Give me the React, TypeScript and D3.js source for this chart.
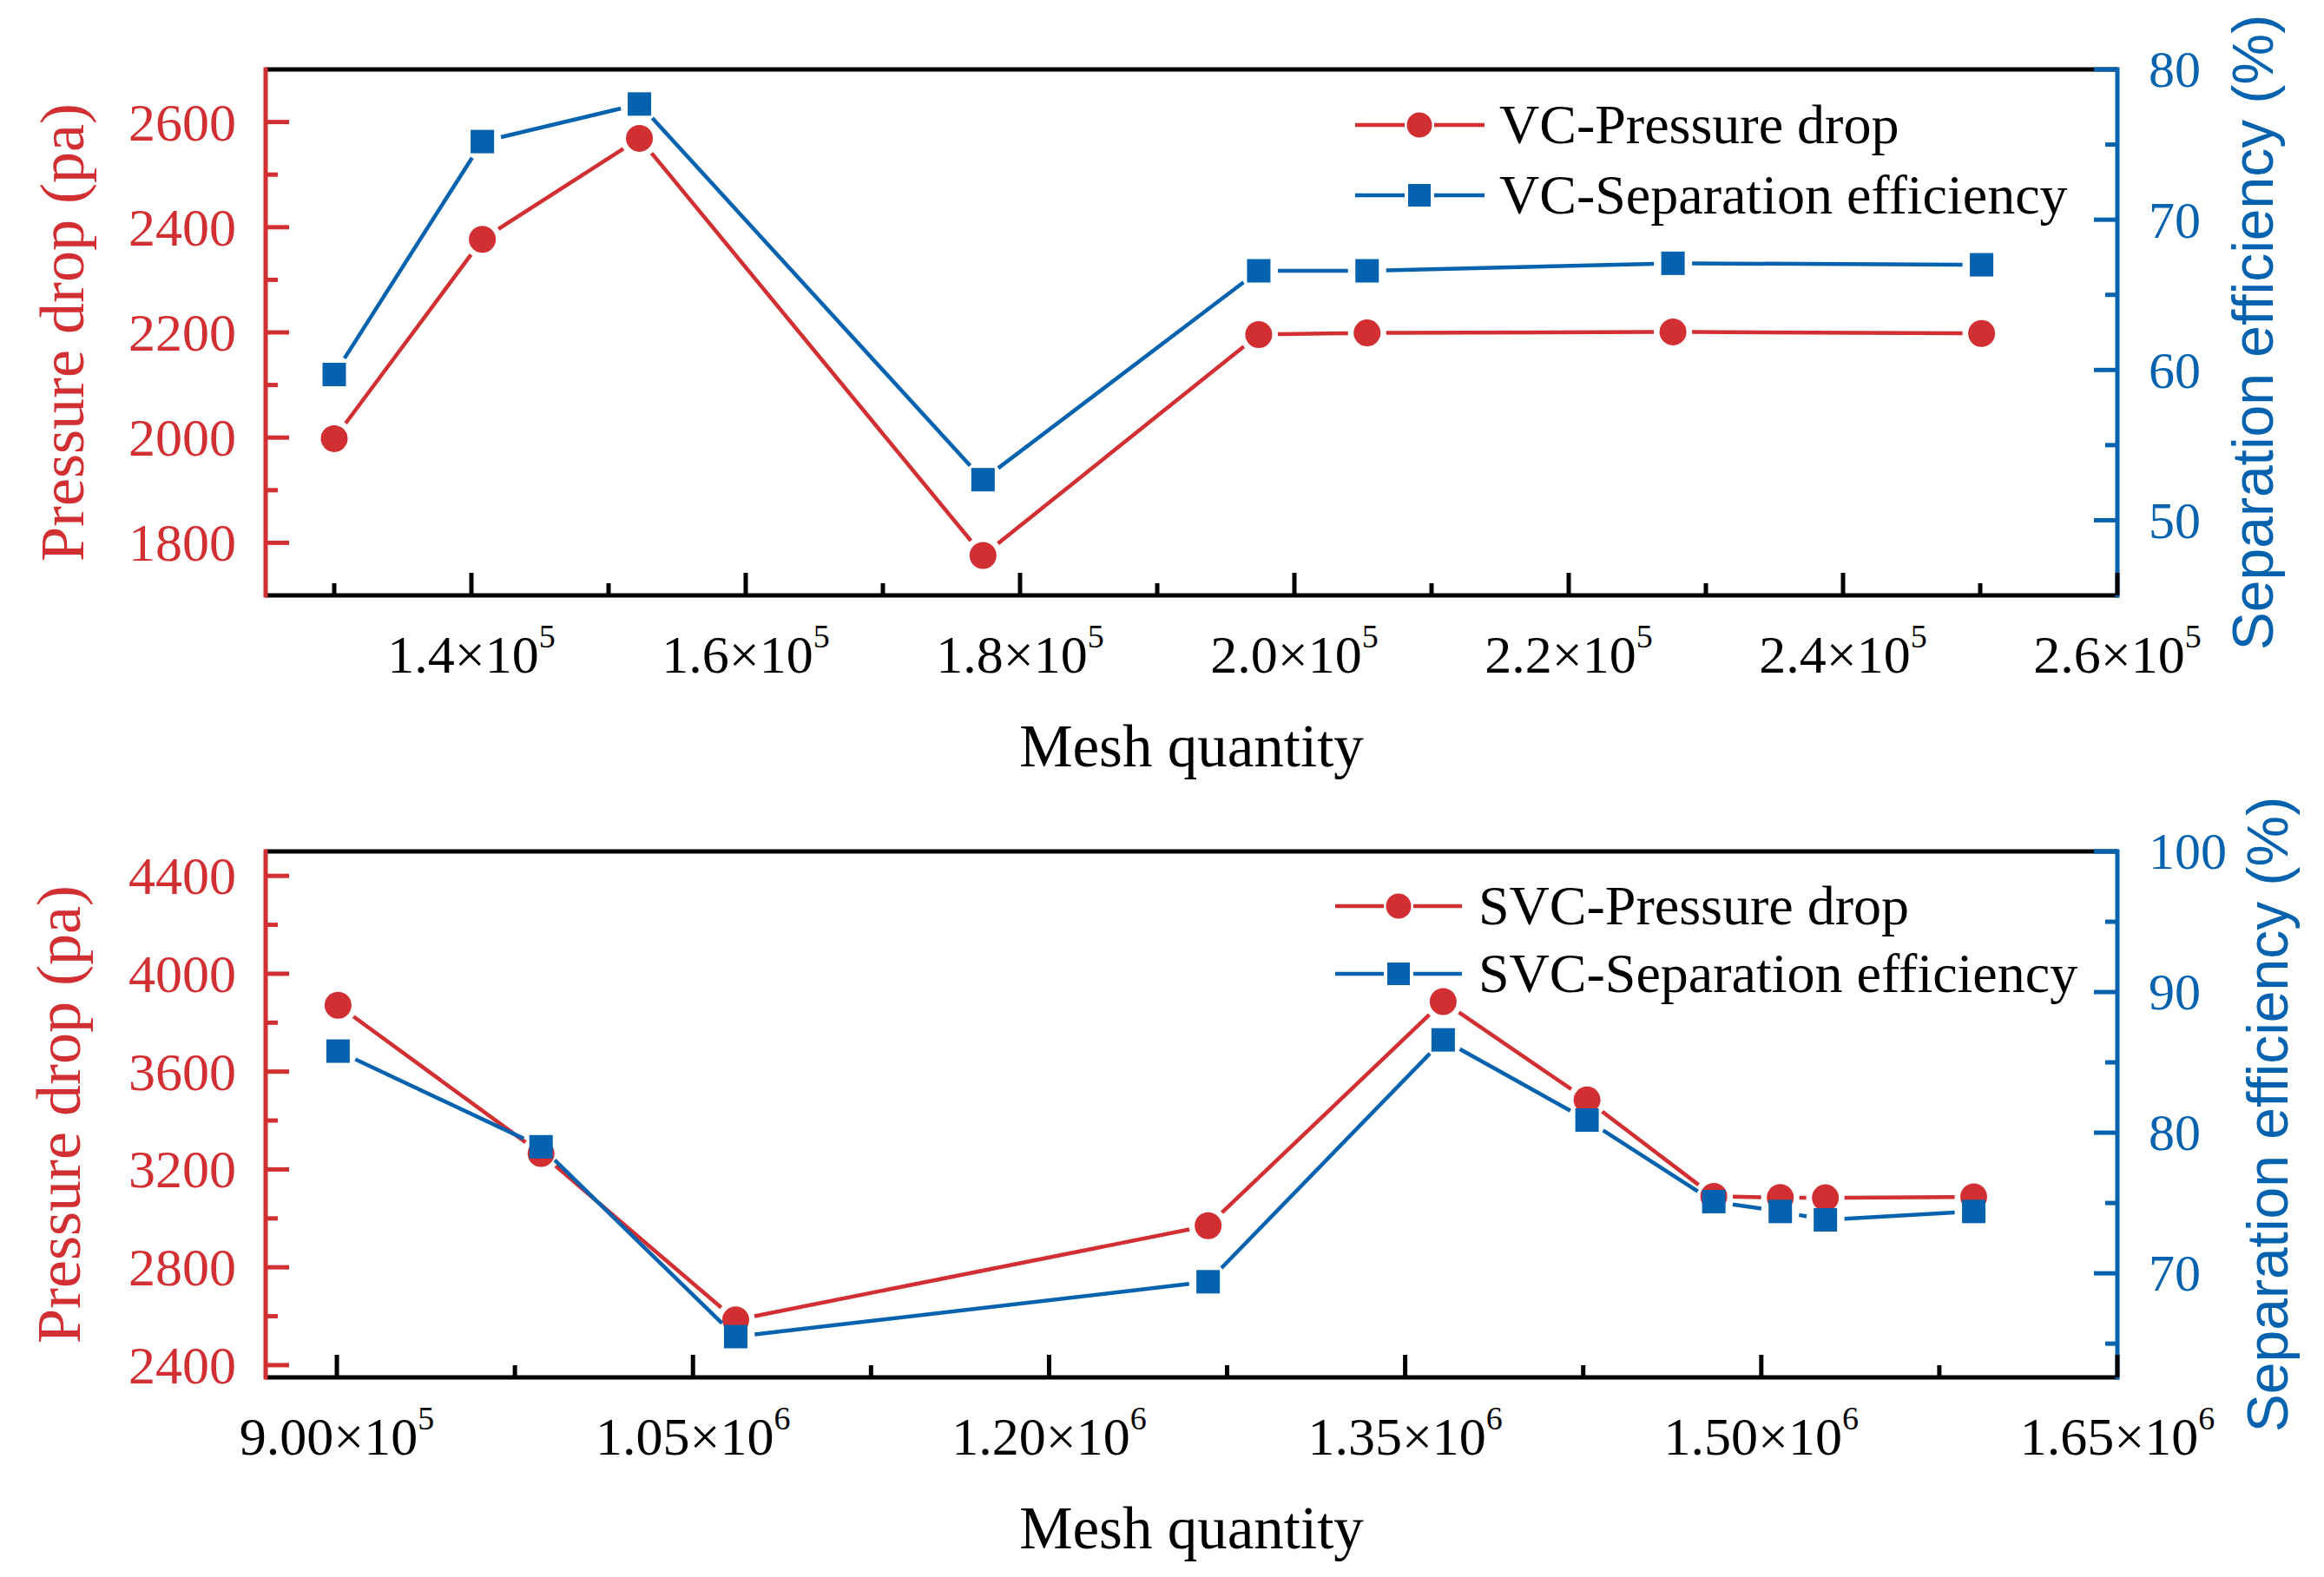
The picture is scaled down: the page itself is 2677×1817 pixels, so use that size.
import * as d3 from "d3";

// VC (top panel)
const vcMesh = [1.3e5, 1.408e5, 1.5225e5, 1.773e5, 1.974e5, 2.053e5, 2.276e5, 2.501e5];
const vcPressure = [1998, 2377, 2569, 1776, 2196, 2199, 2201, 2198];
const vcEfficiency = [59.7, 75.2, 77.7, 52.7, 66.6, 66.6, 67.1, 67.0];

// SVC (bottom panel)
const svcMesh = [9.005e5, 9.86e5, 1.068e6, 1.267e6, 1.366e6, 1.4266e6, 1.48e6, 1.508e6, 1.527e6, 1.5895e6];
const svcPressure = [3871, 3265, 2585, 2970, 3886, 3484, 3090, 3085, 3084, 3088];
const svcEfficiency = [85.8, 79.0, 65.5, 69.4, 86.6, 80.9, 75.1, 74.4, 73.8, 74.4];

// tick values and labels
const vcXTicks = [1.4e5, 1.6e5, 1.8e5, 2.0e5, 2.2e5, 2.4e5, 2.6e5];
const vcXLabels = ["1.4", "1.6", "1.8", "2.0", "2.2", "2.4", "2.6"];
const vcXExp = ["5", "5", "5", "5", "5", "5", "5"];
const vcXMinor = [1.3e5, 1.5e5, 1.7e5, 1.9e5, 2.1e5, 2.3e5, 2.5e5];
const vcLeftTicks = [1800, 2000, 2200, 2400, 2600];
const vcLeftMinor = [1900, 2100, 2300, 2500];
const vcRightTicks = [50, 60, 70, 80];
const vcRightMinor = [55, 65, 75];

const svcXTicks = [9.0e5, 1.05e6, 1.2e6, 1.35e6, 1.5e6, 1.65e6];
const svcXLabels = ["9.00", "1.05", "1.20", "1.35", "1.50", "1.65"];
const svcXExp = ["5", "6", "6", "6", "6", "6"];
const svcXMinor = [9.75e5, 1.125e6, 1.275e6, 1.425e6, 1.575e6];
const svcLeftTicks = [2400, 2800, 3200, 3600, 4000, 4400];
const svcLeftMinor = [2600, 3000, 3400, 3800, 4200];
const svcRightTicks = [70, 80, 90, 100];
const svcRightMinor = [65, 75, 85, 95];

const RED = "#d22f33";
const BLUE = "#0562ae";
const SERIF = "'Liberation Serif', 'Times New Roman', serif";
const SANS = "'Liberation Sans', Arial, sans-serif";

const LEFT = 306;
const RIGHT = 2439;
const AX = 5; // axis / tick stroke
const LW = 4.5; // data line stroke

type Pt = [number, number];

// shorten each segment so the line stops a little before the markers
function segments(pts: Pt[], gap: number) {
  const out: number[][] = [];
  for (let i = 0; i < pts.length - 1; i++) {
    const [x1, y1] = pts[i];
    const [x2, y2] = pts[i + 1];
    const len = Math.hypot(x2 - x1, y2 - y1);
    if (len <= gap * 2) continue;
    const ux = (x2 - x1) / len;
    const uy = (y2 - y1) / len;
    out.push([x1 + ux * gap, y1 + uy * gap, x2 - ux * gap, y2 - uy * gap]);
  }
  return out;
}

function Panel(props: any) {
  const {
    top, bottom, xDomain, xTicks, xLabels, xExp, xMinor,
    lDomain, lTicks, lMinor, rDomain, rTicks, rMinor,
    mesh, pressure, efficiency, names, legend, leftTitleX, rightTitleX,
  } = props;

  const x = d3.scaleLinear().domain(xDomain).range([LEFT, RIGHT]);
  const yL = d3.scaleLinear().domain(lDomain).range([bottom, top]);
  const yR = d3.scaleLinear().domain(rDomain).range([bottom, top]);

  const redPts: Pt[] = mesh.map((m: number, i: number) => [x(m), yL(pressure[i])]);
  const bluePts: Pt[] = mesh.map((m: number, i: number) => [x(m), yR(efficiency[i])]);

  const midY = (top + bottom) / 2;
  const midX = (LEFT + RIGHT) / 2;
  const sq = 27;
  const rc = 15.5;

  return (
    <g>
      {/* frame */}
      <line x1={LEFT} x2={RIGHT} y1={top} y2={top} stroke="#000" strokeWidth={AX} />
      <line x1={LEFT} x2={RIGHT + 2} y1={bottom} y2={bottom} stroke="#000" strokeWidth={AX} />
      <line x1={LEFT} x2={LEFT} y1={top - 2.5} y2={bottom + 2.5} stroke={RED} strokeWidth={AX} />
      <line x1={RIGHT} x2={RIGHT} y1={top - 2.5} y2={bottom + 2.5} stroke={BLUE} strokeWidth={AX} />

      {/* x ticks */}
      {xTicks.map((t: number) => (
        <line key={"xt" + t} x1={x(t)} x2={x(t)} y1={bottom} y2={bottom - 26} stroke="#000" strokeWidth={AX} />
      ))}
      {xMinor.map((t: number) => (
        <line key={"xm" + t} x1={x(t)} x2={x(t)} y1={bottom} y2={bottom - 14} stroke="#000" strokeWidth={AX} />
      ))}
      {xTicks.map((t: number, i: number) => (
        <text key={"xl" + t} x={x(t)} y={bottom + 89} textAnchor="middle" fontFamily={SERIF} fontSize={62} fill="#000">
          <tspan>{xLabels[i]}×10</tspan>
          <tspan fontSize={38} dy={-29}>{xExp[i]}</tspan>
        </text>
      ))}

      {/* left axis */}
      {lTicks.map((t: number) => (
        <line key={"lt" + t} x1={LEFT} x2={LEFT + 27} y1={yL(t)} y2={yL(t)} stroke={RED} strokeWidth={AX} />
      ))}
      {lMinor.map((t: number) => (
        <line key={"lm" + t} x1={LEFT} x2={LEFT + 14} y1={yL(t)} y2={yL(t)} stroke={RED} strokeWidth={AX} />
      ))}
      {lTicks.map((t: number) => (
        <text key={"ll" + t} x={LEFT - 34} y={yL(t)} dy="0.34em" textAnchor="end" fontFamily={SERIF} fontSize={62} fill={RED}>
          {t}
        </text>
      ))}

      {/* right axis */}
      {rTicks.map((t: number) => (
        <line key={"rt" + t} x1={RIGHT} x2={RIGHT - 27} y1={yR(t)} y2={yR(t)} stroke={BLUE} strokeWidth={AX} />
      ))}
      {rMinor.map((t: number) => (
        <line key={"rm" + t} x1={RIGHT} x2={RIGHT - 14} y1={yR(t)} y2={yR(t)} stroke={BLUE} strokeWidth={AX} />
      ))}
      {rTicks.map((t: number) => (
        <text key={"rl" + t} x={RIGHT + 36} y={yR(t)} dy="0.34em" textAnchor="start" fontFamily={SERIF} fontSize={60} fill={BLUE}>
          {t}
        </text>
      ))}

      {/* titles */}
      <text transform={`translate(${leftTitleX},${midY}) rotate(-90)`} textAnchor="middle" fontFamily={SERIF} fontSize={72} fill={RED}>
        Pressure drop (pa)
      </text>
      <text transform={`translate(${rightTitleX},${midY}) rotate(-90)`} textAnchor="middle" fontFamily={SANS} fontSize={66} fill={BLUE}>
        Separation efficiency (%)
      </text>
      <text x={midX} y={bottom + 197} textAnchor="middle" fontFamily={SERIF} fontSize={69} fill="#000">
        Mesh quantity
      </text>

      {/* pressure series */}
      {segments(redPts, 22).map((s, i) => (
        <line key={"rs" + i} x1={s[0]} y1={s[1]} x2={s[2]} y2={s[3]} stroke={RED} strokeWidth={LW} />
      ))}
      {redPts.map((p, i) => (
        <circle key={"rc" + i} cx={p[0]} cy={p[1]} r={rc} fill={RED} />
      ))}

      {/* efficiency series */}
      {segments(bluePts, 22).map((s, i) => (
        <line key={"bs" + i} x1={s[0]} y1={s[1]} x2={s[2]} y2={s[3]} stroke={BLUE} strokeWidth={LW} />
      ))}
      {bluePts.map((p, i) => (
        <rect key={"bq" + i} x={p[0] - sq / 2} y={p[1] - sq / 2} width={sq} height={sq} fill={BLUE} />
      ))}

      {/* legend */}
      {[0, 1].map((k) => {
        const c = k === 0 ? RED : BLUE;
        const ry = legend.rows[k];
        return (
          <g key={"lg" + k}>
            <line x1={legend.x0} x2={legend.mx - 17} y1={ry} y2={ry} stroke={c} strokeWidth={LW} />
            <line x1={legend.mx + 17} x2={legend.x1} y1={ry} y2={ry} stroke={c} strokeWidth={LW} />
            {k === 0 ? (
              <circle cx={legend.mx} cy={ry} r={14.5} fill={c} />
            ) : (
              <rect x={legend.mx - 13} y={ry - 13} width={26} height={26} fill={c} />
            )}
            <text x={legend.tx} y={ry} dy="0.33em" fontFamily={SERIF} fontSize={64} fill="#000">
              {names[k]}
            </text>
          </g>
        );
      })}
    </g>
  );
}

export default function App() {
  return (
    <svg
      width={2677}
      height={1817}
      viewBox="0 0 2677 1817"
      style={{ position: "absolute", left: 0, top: 0, background: "#fff" }}
    >
      <rect x={0} y={0} width={2677} height={1817} fill="#fff" />
      <Panel
        top={80}
        bottom={686}
        xDomain={[1.25e5, 2.6e5]}
        xTicks={vcXTicks}
        xLabels={vcXLabels}
        xExp={vcXExp}
        xMinor={vcXMinor}
        lDomain={[1700, 2700]}
        lTicks={vcLeftTicks}
        lMinor={vcLeftMinor}
        rDomain={[45, 80]}
        rTicks={vcRightTicks}
        rMinor={vcRightMinor}
        mesh={vcMesh}
        pressure={vcPressure}
        efficiency={vcEfficiency}
        names={["VC-Pressure drop", "VC-Separation efficiency"]}
        legend={{ x0: 1561, mx: 1635, x1: 1710, tx: 1727, rows: [144, 225] }}
        leftTitleX={96}
        rightTitleX={2618}
      />
      <Panel
        top={981}
        bottom={1587}
        xDomain={[8.7e5, 1.65e6]}
        xTicks={svcXTicks}
        xLabels={svcXLabels}
        xExp={svcXExp}
        xMinor={svcXMinor}
        lDomain={[2350, 4500]}
        lTicks={svcLeftTicks}
        lMinor={svcLeftMinor}
        rDomain={[62.6, 100]}
        rTicks={svcRightTicks}
        rMinor={svcRightMinor}
        mesh={svcMesh}
        pressure={svcPressure}
        efficiency={svcEfficiency}
        names={["SVC-Pressure drop", "SVC-Separation efficiency"]}
        legend={{ x0: 1538, mx: 1611, x1: 1684, tx: 1703, rows: [1044, 1122] }}
        leftTitleX={92}
        rightTitleX={2635}
      />
    </svg>
  );
}
